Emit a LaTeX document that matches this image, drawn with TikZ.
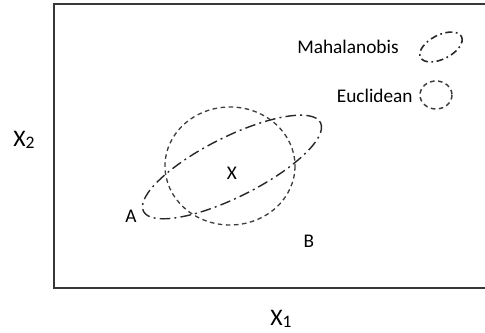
\documentclass[tikz,border=0pt]{standalone}
\usepackage{fontspec}
\setmainfont{Carlito}
\usetikzlibrary{positioning}
\definecolor{framegray}{RGB}{55,55,55}
\definecolor{inkgray}{RGB}{40,40,40}
\newcommand{\lowdigit}[1]{\raisebox{-0.15ex}{\fontsize{10}{10}\selectfont #1}}
\tikzset{
    mahal/.style={draw=inkgray, line width=0.8pt,
                  dash pattern=on 6pt off 2.4pt on 1.1pt off 2.4pt},
    eucl/.style={draw=inkgray!90, line width=0.75pt,
                 dash pattern=on 2.6pt off 2pt},
    ptlbl/.style={font=\fontsize{11}{13}\selectfont, inner sep=0pt},
    axlbl/.style={font=\fontsize{13.5}{15}\selectfont, inner sep=0pt},
}
\begin{document}
\begin{tikzpicture}[x=0.02cm, y=-0.02cm]
    \useasboundingbox (0,0) rectangle (485,333);
    \draw[framegray, line width=1.1pt] (54,4) rectangle (488,288);
    % contours round the point X
    \draw[mahal, rotate around={26.6:(232,167)}] (232,167) ellipse (99 and 30);
    \draw[eucl] (230,166) ellipse (65 and 59);
    \node[ptlbl] (ctr) at (232,173) {X};
    \node[ptlbl] (ptA) at (131,216) {A};
    \node[ptlbl] (ptB) at (309,241) {B};
    % legend
    \node[ptlbl, anchor=east] (mahtxt) at (399,47) {Mahalanobis};
    \node[ptlbl, anchor=east] (euctxt) at (413,96) {Euclidean};
    \draw[mahal, line width=0.9pt, dash pattern=on 4pt off 2pt on 1pt off 2pt,
          rotate around={27:(441,47)}] (441,47) ellipse (23 and 12);
    \draw[eucl, line width=0.85pt] (436,95) ellipse (16 and 14);
    % axes
    \node[axlbl] (xone) at (281,319) {X\lowdigit{1}};
    \node[axlbl] (xtwo) at (24,140) {X\lowdigit{2}};
\end{tikzpicture}
\end{document}
